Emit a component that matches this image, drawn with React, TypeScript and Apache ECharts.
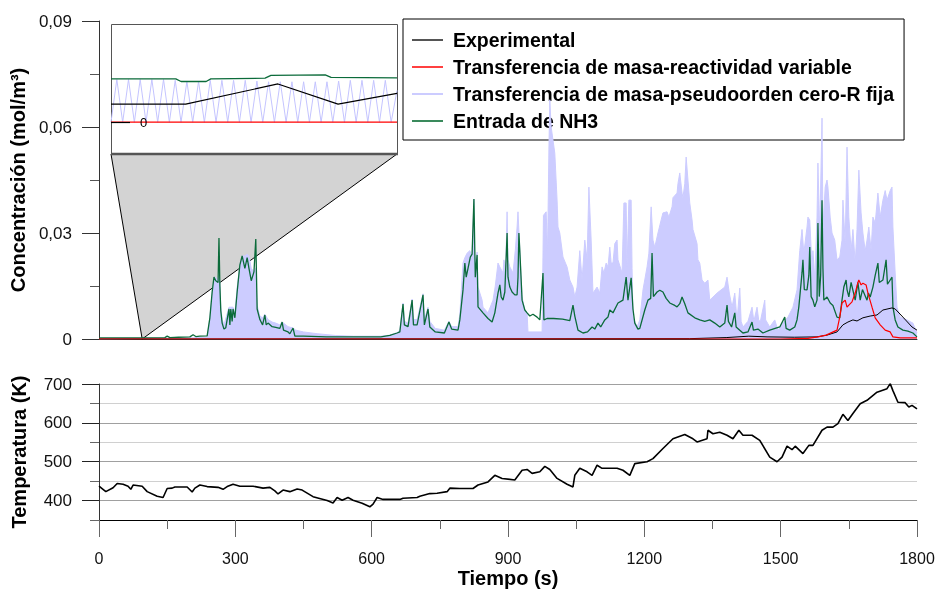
import React, { useEffect, useRef } from 'react';
import * as echarts from 'echarts';

const FONT = "'Liberation Sans', Arial, sans-serif";

const legendNames = [
  'Experimental',
  'Transferencia de masa-reactividad variable',
  'Transferencia de masa-pseudoorden cero-R fija',
  'Entrada de NH3',
];

const concTicks = [0, 0.03, 0.06, 0.09];
const tempLabelTicks = [400, 500, 600, 700];
const timeTicks = [0, 300, 600, 900, 1200, 1500, 1800];

// Entrada de NH3 [t (s), mol/m3]
const nh3Entrada: [number, number][] = [
  [0,0.0003],[100,0.0003],[145,0.0004],[150,0.0008],[156,0.0004],[175,0.0005],[200,0.0006],[207,0.0012],[213,0.0007],[222,0.0008],[238,0.0009],[244,0.006],[249,0.0133],[253,0.0175],[257,0.0165],[262,0.016],[264,0.0286],[266,0.015],[268,0.008],[271,0.0045],[275,0.0028],[279,0.0032],[286,0.0085],[288,0.004],[290,0.0085],[293,0.005],[295,0.0085],[299,0.006],[304,0.0133],[310,0.021],[315,0.0235],[321,0.02],[326,0.023],[330,0.02],[335,0.0165],[341,0.019],[345,0.0283],[348,0.0085],[354,0.0055],[360,0.004],[365,0.0068],[368,0.004],[372,0.0045],[381,0.0035],[389,0.0033],[398,0.003],[403,0.0048],[406,0.0025],[416,0.002],[420,0.0015],[427,0.0031],[431,0.0008],[450,0.0008],[500,0.0006],[560,0.0006],[620,0.0006],[640,0.001],[656,0.0017],[662,0.002],[669,0.0099],[672,0.004],[680,0.0035],[689,0.011],[692,0.004],[700,0.004],[713,0.0125],[716,0.004],[724,0.0085],[728,0.0034],[740,0.002],[760,0.0017],[770,0.0048],[776,0.0028],[790,0.0025],[794,0.0054],[801,0.0139],[805,0.0215],[808,0.0175],[812,0.02],[817,0.0232],[821,0.024],[825,0.0396],[828,0.0175],[832,0.0238],[834,0.0091],[845,0.0074],[856,0.0058],[865,0.0048],[871,0.0074],[878,0.013],[882,0.0153],[885,0.0119],[889,0.011],[893,0.0133],[898,0.03],[900,0.0175],[904,0.0147],[909,0.0133],[915,0.0125],[920,0.0125],[922,0.0175],[924,0.03],[926,0.025],[931,0.011],[937,0.0082],[942,0.0074],[948,0.0065],[955,0.007],[964,0.0062],[970,0.0054],[977,0.0187],[979,0.0054],[986,0.0058],[1000,0.0058],[1020,0.0056],[1036,0.0052],[1043,0.0096],[1047,0.0065],[1054,0.0025],[1065,0.0017],[1075,0.002],[1085,0.0034],[1091,0.0028],[1098,0.0045],[1104,0.0034],[1113,0.0054],[1120,0.0062],[1124,0.0082],[1131,0.0074],[1142,0.0102],[1153,0.011],[1160,0.0175],[1164,0.011],[1171,0.0173],[1175,0.0085],[1179,0.0045],[1186,0.0028],[1190,0.003],[1201,0.0082],[1208,0.011],[1214,0.0115],[1217,0.0243],[1220,0.012],[1228,0.0133],[1234,0.0138],[1241,0.0133],[1248,0.0115],[1256,0.0102],[1267,0.0095],[1272,0.0091],[1278,0.01],[1283,0.0119],[1289,0.01],[1296,0.0074],[1311,0.006],[1322,0.0054],[1333,0.005],[1344,0.0054],[1355,0.0045],[1366,0.0034],[1377,0.0045],[1382,0.0096],[1385,0.005],[1392,0.0034],[1399,0.0074],[1402,0.0034],[1410,0.0025],[1417,0.0017],[1428,0.002],[1437,0.0048],[1440,0.0025],[1450,0.0028],[1461,0.0017],[1476,0.0025],[1498,0.0034],[1509,0.0062],[1512,0.003],[1520,0.0025],[1531,0.0034],[1536,0.0054],[1540,0.0091],[1547,0.0187],[1549,0.0224],[1552,0.014],[1558,0.0139],[1562,0.018],[1564,0.026],[1567,0.012],[1571,0.011],[1575,0.0091],[1580,0.011],[1582,0.0328],[1585,0.012],[1588,0.018],[1591,0.0393],[1593,0.02],[1595,0.011],[1602,0.0119],[1609,0.0102],[1615,0.0095],[1624,0.0062],[1630,0.006],[1635,0.011],[1639,0.0147],[1644,0.0167],[1646,0.014],[1650,0.0119],[1655,0.016],[1664,0.011],[1670,0.016],[1675,0.011],[1680,0.014],[1690,0.011],[1693,0.013],[1697,0.0119],[1703,0.0147],[1708,0.018],[1714,0.0215],[1717,0.016],[1725,0.0167],[1732,0.0224],[1735,0.0155],[1741,0.0167],[1745,0.0175],[1747,0.0091],[1752,0.0054],[1758,0.0034],[1769,0.0025],[1780,0.0022],[1791,0.0017],[1800,0.0006],
];

// Transferencia de masa-pseudoorden cero-R fija
const pseudoOrden: [number, number][] = [
  [0,0],[200,0.0003],[238,0.0005],[244,0.006],[249,0.013],[253,0.017],[257,0.0175],[262,0.0165],[264,0.018],[266,0.016],[268,0.009],[271,0.0055],[275,0.004],[286,0.009],[290,0.009],[295,0.009],[299,0.007],[304,0.0145],[310,0.021],[315,0.0235],[321,0.0235],[326,0.024],[330,0.0235],[335,0.02],[341,0.019],[345,0.02],[348,0.0095],[354,0.0065],[360,0.006],[365,0.007],[372,0.0055],[381,0.0048],[389,0.0045],[398,0.004],[403,0.0048],[416,0.0035],[427,0.0031],[433,0.0025],[450,0.002],[480,0.0015],[520,0.001],[560,0.0008],[620,0.0008],[640,0.0011],[656,0.0018],[662,0.0025],[669,0.0102],[672,0.005],[680,0.0045],[689,0.0113],[692,0.0055],[700,0.0055],[713,0.0128],[716,0.0055],[724,0.009],[728,0.005],[740,0.003],[760,0.0025],[770,0.005],[776,0.0035],[790,0.0035],[794,0.007],[801,0.0215],[805,0.023],[810,0.0243],[816,0.025],[821,0.0232],[825,0.0396],[827,0.0204],[832,0.0246],[834,0.0147],[843,0.011],[845,0.009],[856,0.0074],[867,0.011],[872,0.015],[878,0.0215],[882,0.0204],[889,0.0187],[891,0.0224],[895,0.02],[898,0.036],[900,0.0224],[904,0.0204],[911,0.0187],[916,0.025],[920,0.0317],[922,0.036],[926,0.025],[931,0.0119],[937,0.0082],[942,0.0074],[944,0.002],[975,0.002],[978,0.035],[984,0.036],[987,0.0243],[990,0.0535],[992,0.0677],[995,0.06],[999,0.0563],[1003,0.0526],[1008,0.0393],[1010,0.0317],[1014,0.03],[1021,0.0232],[1030,0.0204],[1036,0.0167],[1043,0.0147],[1047,0.0119],[1052,0.0147],[1058,0.025],[1063,0.0167],[1069,0.028],[1074,0.0224],[1078,0.043],[1083,0.028],[1087,0.013],[1096,0.0147],[1102,0.013],[1107,0.0204],[1111,0.0187],[1116,0.0215],[1120,0.0204],[1124,0.026],[1127,0.0215],[1131,0.0215],[1135,0.027],[1140,0.028],[1142,0.0224],[1151,0.0187],[1155,0.0385],[1160,0.0385],[1162,0.0204],[1166,0.0393],[1171,0.0393],[1173,0.02],[1175,0.0062],[1184,0.0034],[1190,0.0054],[1197,0.0139],[1206,0.0204],[1210,0.0243],[1215,0.0374],[1219,0.028],[1223,0.026],[1230,0.03],[1237,0.0337],[1241,0.0357],[1250,0.036],[1254,0.0345],[1261,0.0374],[1263,0.04],[1272,0.0413],[1274,0.044],[1278,0.047],[1283,0.0413],[1285,0.04],[1289,0.044],[1292,0.0515],[1296,0.045],[1300,0.0385],[1305,0.0337],[1307,0.031],[1316,0.027],[1318,0.0224],[1322,0.0215],[1327,0.0167],[1333,0.0158],[1340,0.0167],[1344,0.011],[1360,0.013],[1377,0.0147],[1382,0.0175],[1387,0.013],[1393,0.009],[1399,0.013],[1404,0.0054],[1410,0.0144],[1413,0.005],[1417,0.0034],[1428,0.005],[1437,0.009],[1441,0.005],[1448,0.009],[1452,0.005],[1456,0.0054],[1465,0.011],[1467,0.0054],[1476,0.0034],[1487,0.0054],[1494,0.0025],[1505,0.0045],[1516,0.0062],[1527,0.009],[1536,0.0139],[1542,0.025],[1547,0.031],[1551,0.0243],[1558,0.0317],[1560,0.0345],[1564,0.0337],[1569,0.0204],[1571,0.025],[1575,0.0167],[1580,0.0345],[1582,0.0498],[1586,0.03],[1591,0.0625],[1593,0.0317],[1598,0.043],[1602,0.045],[1604,0.043],[1609,0.0345],[1613,0.03],[1619,0.028],[1624,0.0224],[1630,0.0232],[1635,0.028],[1637,0.0393],[1642,0.027],[1646,0.0543],[1650,0.0345],[1655,0.025],[1659,0.031],[1664,0.0215],[1668,0.031],[1672,0.0478],[1677,0.0357],[1681,0.03],[1686,0.025],[1690,0.028],[1694,0.0317],[1699,0.025],[1703,0.0345],[1708,0.0328],[1714,0.0413],[1719,0.0345],[1725,0.0393],[1730,0.042],[1734,0.0393],[1741,0.042],[1745,0.043],[1747,0.0317],[1752,0.0187],[1756,0.009],[1763,0.0062],[1778,0.0054],[1791,0.0045],[1800,0.0017],
];

// Experimental
const experimental: [number, number][] = [
  [0,0],[1300,0.0001],[1380,0.0004],[1430,0.0008],[1470,0.0006],[1530,0.0005],[1580,0.0006],[1602,0.0011],[1624,0.002],[1637,0.004],[1648,0.0048],[1659,0.0054],[1668,0.0051],[1681,0.006],[1697,0.0065],[1712,0.0068],[1725,0.0082],[1745,0.0088],[1752,0.0085],[1769,0.0062],[1789,0.0034],[1800,0.0025],
];

// Transferencia de masa-reactividad variable
const reactividadVariable: [number, number][] = [
  [0,0],[1500,0],[1560,0.0002],[1582,0.0006],[1600,0.0011],[1624,0.0025],[1630,0.0062],[1635,0.0102],[1642,0.011],[1646,0.009],[1650,0.0096],[1657,0.0105],[1664,0.013],[1670,0.016],[1672,0.0167],[1677,0.0153],[1681,0.0158],[1688,0.0153],[1692,0.013],[1701,0.009],[1708,0.006],[1719,0.004],[1730,0.0025],[1741,0.002],[1747,0.0006],[1763,0.0003],[1800,0.0003],
];

// Temperatura (K)
const temperature: [number, number][] = [
  [0,437],[15,423],[31,433],[40,444],[53,442],[64,437],[70,429],[75,440],[95,437],[106,423],[128,411],[141,408],[150,431],[161,432],[167,435],[194,435],[205,422],[211,432],[222,440],[238,436],[262,434],[273,429],[282,436],[295,442],[310,437],[339,437],[361,432],[376,434],[387,425],[394,417],[405,427],[420,423],[436,430],[447,427],[471,410],[502,400],[515,394],[524,408],[535,401],[548,408],[559,401],[579,393],[596,384],[603,391],[612,408],[625,403],[662,403],[669,406],[700,408],[706,411],[728,418],[744,419],[766,423],[772,432],[794,431],[823,431],[834,440],[856,448],[871,465],[887,457],[915,453],[931,478],[942,480],[953,470],[970,474],[981,488],[992,480],[1008,457],[1030,442],[1043,435],[1047,465],[1058,483],[1074,474],[1085,465],[1096,491],[1107,483],[1140,483],[1153,478],[1168,465],[1179,495],[1206,500],[1219,508],[1241,534],[1263,559],[1289,570],[1307,559],[1316,551],[1338,559],[1340,581],[1351,572],[1366,576],[1382,568],[1395,559],[1408,581],[1417,568],[1437,568],[1454,555],[1476,512],[1492,500],[1503,512],[1514,540],[1525,531],[1532,540],[1549,521],[1562,542],[1571,542],[1591,581],[1602,589],[1615,589],[1626,598],[1637,622],[1648,606],[1659,624],[1675,649],[1690,658],[1712,679],[1734,688],[1741,701],[1747,683],[1758,653],[1774,652],[1782,641],[1789,645],[1800,636],
];

// Inset (zoom around t = 95 s)
const zoomCenter: [number, number] = [95, 0];
const insetPseudo: [number, number][] = [
  [70,0],[71,0.000296],[72,0],[73,0.000296],[74,0],[75,0.000296],[76,0],[77,0.000296],[78,0],[79,0.000296],[80,0],[81,0.00029],[82,0],[83,0.000282],[84,0],[85,0.000282],[86,0],[87,0.00029],[88,0],[89,0.00029],[90,0],[91,0.00029],[92,0],[93,0.00029],[94,0],[95,0.000285],[96,0],[97,0.00028],[98,0],[99,0.00028],[100,0],[101,0.00028],[102,0],[103,0.00028],[104,0],[105,0.00028],[106,0],[107,0.00028],[108,0],[109,0.000285],[110,0],[111,0.00029],[112,0],[113,0.00029],[114,0],[115,0.00029],[116,0],[117,0.00029],[118,0],[119,0.00022],
];
const insetNh3: [number, number][] = [
  [70,0.0003],[81.1,0.0003],[82,0.000282],[86.3,0.000282],[87.1,0.0003],[96.4,0.000305],[97.4,0.000324],[106.7,0.000328],[107.7,0.00031],[119,0.000307],
];
const insetExperimental: [number, number][] = [
  [70,0.000125],[82.8,0.000125],[98.6,0.000265],[108.9,0.000125],[119,0.0002],
];
const insetReactividad: [number, number][] = [[70,0],[119,0]];

const BLUE = '#ccccff';
const GREEN = '#0b6b3a';
const RED = '#ff0000';

const lineSeries = (name: string, data: [number, number][], color: string, width: number, xi: number, yi: number, extra: any = {}) => ({
  type: 'line',
  name,
  data,
  xAxisIndex: xi,
  yAxisIndex: yi,
  showSymbol: false,
  symbol: 'none',
  silent: true,
  itemStyle: { color },
  lineStyle: { color, width },
  ...extra,
});

export default function App() {
  const ref = useRef<HTMLDivElement>(null);

  useEffect(() => {
    if (!ref.current) return;
    const chart = echarts.init(ref.current, undefined, { renderer: 'svg' });

    const insetGrid = { left: 111, top: 24, width: 286, height: 130 };
    const gridBase = { containLabel: false, outerBoundsMode: 'none' };

    const option: any = {
      animation: false,
      textStyle: { fontFamily: FONT },
      grid: [
        { ...gridBase, left: 99, top: 21, width: 818, height: 318 },
        { ...gridBase, left: 99, top: 384, width: 818, height: 136 },
        { ...gridBase, ...insetGrid },
      ],
      legend: {
        left: 403,
        top: 19,
        z: 1,
        orient: 'vertical',
        itemWidth: 31,
        itemHeight: 2,
        itemGap: 7,
        padding: [11, 10, 9, 9],
        borderColor: '#000',
        borderWidth: 1,
        backgroundColor: '#fff',
        selectedMode: false,
        textStyle: { fontSize: 19.5, fontWeight: 'bold', color: '#000', fontFamily: FONT, lineHeight: 20, padding: [0, 0, 0, 5] },
        data: [
          { name: legendNames[0], icon: 'rect', itemStyle: { color: '#555' } },
          { name: legendNames[1], icon: 'rect', itemStyle: { color: '#ff4040' } },
          { name: legendNames[2], icon: 'rect', itemStyle: { color: BLUE } },
          { name: legendNames[3], icon: 'rect', itemStyle: { color: '#3a8a5c' } },
        ],
      },
      xAxis: [
        {
          gridIndex: 0, type: 'value', min: 0, max: 1800,
          axisLine: { show: true, lineStyle: { color: '#333', width: 1 } },
          axisTick: { show: false }, axisLabel: { show: false }, splitLine: { show: false },
        },
        {
          gridIndex: 1, type: 'value', min: 0, max: 1800, interval: 300,
          axisLine: { show: true, lineStyle: { color: '#000', width: 1 } },
          axisTick: { show: true, length: 17, lineStyle: { color: '#666' } },
          minorTick: { show: true, splitNumber: 2, length: 9, lineStyle: { color: '#666' } },
          axisLabel: {
            fontSize: 16, color: '#111', margin: 30, fontFamily: FONT,
            formatter: (v: number) => (timeTicks.includes(v) ? String(v) : ''),
          },
          splitLine: { show: false },
          name: 'Tiempo (s)', nameLocation: 'middle', nameGap: 48,
          nameTextStyle: { fontWeight: 'bold', fontSize: 20, color: '#000', fontFamily: FONT },
        },
        { gridIndex: 2, type: 'value', min: 70, max: 119, show: false },
      ],
      yAxis: [
        {
          gridIndex: 0, type: 'value', min: 0, max: 0.09, interval: 0.03, position: 'left',
          axisLine: { show: true, lineStyle: { color: '#333' } },
          axisTick: { show: true, length: 17, lineStyle: { color: '#333' } },
          minorTick: { show: true, splitNumber: 2, length: 9, lineStyle: { color: '#555' } },
          axisLabel: {
            fontSize: 17, color: '#111', margin: 27, fontFamily: FONT,
            formatter: (v: number) => {
              const t = concTicks.find((c) => Math.abs(c - v) < 1e-9);
              if (t === undefined) return '';
              return t === 0 ? '0' : t.toFixed(2).replace('.', ',');
            },
          },
          splitLine: { show: false },
          name: 'Concentración (mol/m³)', nameLocation: 'middle', nameGap: 66,
          nameTextStyle: { fontWeight: 'bold', fontSize: 20, color: '#000', fontFamily: FONT },
        },
        {
          gridIndex: 1, type: 'value', min: 350, max: 700, interval: 50, position: 'left',
          axisLine: { show: true, lineStyle: { color: '#333' } },
          axisTick: { show: true, length: 9, lineStyle: { color: '#666' } },
          axisLabel: { show: false },
          splitLine: { show: true, showMinLine: false, lineStyle: { color: ['#a0a0a0', '#d0d0d0'], width: 1 } },
          name: 'Temperatura (K)', nameLocation: 'middle', nameGap: 70,
          nameTextStyle: { fontWeight: 'bold', fontSize: 20, color: '#000', fontFamily: FONT },
        },
        {
          gridIndex: 1, type: 'value', min: 350, max: 700, interval: 50, position: 'left', offset: 0,
          axisLine: { show: false },
          axisTick: { show: true, length: 17, customValues: tempLabelTicks, lineStyle: { color: '#222' } },
          axisLabel: { show: true, customValues: tempLabelTicks, fontSize: 17, color: '#111', margin: 27, fontFamily: FONT },
          splitLine: { show: false },
        },
        {
          gridIndex: 2, type: 'value', min: -0.00022, max: 0.00068, position: 'left', z: 5,
          axisLine: { show: false },
          axisTick: { show: true, inside: true, length: 19, customValues: [0], lineStyle: { color: '#000', width: 1.2 } },
          axisLabel: { show: true, inside: true, customValues: [0], formatter: () => '0', margin: 29, fontSize: 13, color: '#000', fontFamily: FONT },
          splitLine: { show: false },
        },
      ],
      series: [
        lineSeries(legendNames[2], pseudoOrden, BLUE, 1, 0, 0, { areaStyle: { color: BLUE, opacity: 1 } }),
        lineSeries(legendNames[3], nh3Entrada, GREEN, 1.3, 0, 0),
        lineSeries(legendNames[0], experimental, '#000', 1, 0, 0),
        lineSeries(legendNames[1], reactividadVariable, RED, 1.2, 0, 0),
        lineSeries('Temperatura', temperature, '#000', 1.6, 1, 1),
        lineSeries('inset-pseudo', insetPseudo, '#c4c4ff', 1, 2, 3),
        lineSeries('inset-nh3', insetNh3, GREEN, 1.3, 2, 3),
        lineSeries('inset-exp', insetExperimental, '#000', 1.2, 2, 3),
        lineSeries('inset-react', insetReactividad, RED, 1.3, 2, 3),
      ],
    };

    chart.setOption(option);

    const apex = chart.convertToPixel({ xAxisIndex: 0, yAxisIndex: 0 }, zoomCenter) as number[];
    const L = insetGrid.left;
    const R = insetGrid.left + insetGrid.width;
    const T = insetGrid.top;
    const B = insetGrid.top + insetGrid.height;
    chart.setOption({
      graphic: [
        {
          type: 'polygon', z: 1, silent: true,
          shape: { points: [[L, B], [R, B], [apex[0], apex[1]]] },
          style: { fill: '#d3d3d3', stroke: '#000', lineWidth: 1 },
        },
        {
          type: 'rect', z: 1, silent: true,
          shape: { x: L + 0.5, y: T + 0.5, width: insetGrid.width, height: insetGrid.height },
          style: { fill: '#fff', stroke: '#555', lineWidth: 1 },
        },
        {
          type: 'line', z: 1, silent: true,
          shape: { x1: L, y1: B, x2: R + 1, y2: B },
          style: { stroke: '#555', lineWidth: 2.5 },
        },
      ],
    });

    return () => chart.dispose();
  }, []);

  return <div ref={ref} style={{ position: 'fixed', left: 0, top: 0, width: 937, height: 589 }} />;
}
